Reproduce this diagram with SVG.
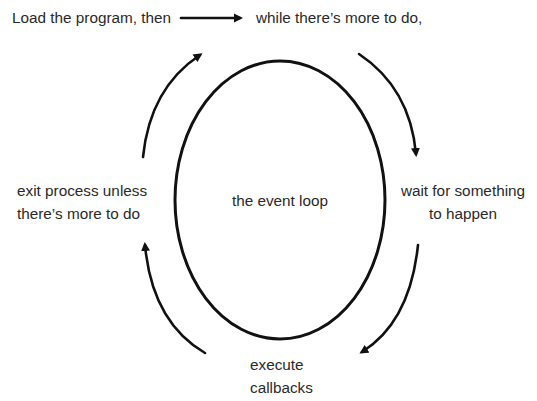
<svg xmlns="http://www.w3.org/2000/svg" width="537" height="401" viewBox="0 0 537 401">
<defs>
<style>
text{font-family:"Liberation Sans","DejaVu Sans",sans-serif;font-size:15.3px;fill:#2a2a2a}
.c{fill:none;stroke:#111;stroke-width:2.6;stroke-linecap:round}
</style>
<marker id="ah" markerWidth="12" markerHeight="12" refX="6" refY="5" orient="auto" markerUnits="userSpaceOnUse">
<path d="M0,0.5 L9,5 L0,9.5 Z" fill="#111"/>
</marker>
</defs>
<rect width="537" height="401" fill="#fff"/>
<g id="loop">
<ellipse cx="280" cy="200" rx="105" ry="139" fill="none" stroke="#111" stroke-width="3"/>
<text x="280" y="206" text-anchor="middle">the event loop</text>
</g>
<g id="load"><text x="12" y="23">Load the program, then</text></g>
<g id="while"><text x="256" y="23">while there’s more to do,</text></g>
<g id="wait"><text x="463" y="196" text-anchor="middle">wait for something</text><text x="463" y="219" text-anchor="middle">to happen</text></g>
<g id="execute"><text x="250" y="370">execute</text><text x="250" y="393">callbacks</text></g>
<g id="exit"><text x="17" y="196">exit process unless</text><text x="17" y="219">there’s more to do</text></g>
<g id="connectors">
<path class="c" d="M181,18 L240,18" stroke-width="3" marker-end="url(#ah)"/>
<path class="c" d="M143,157 Q150,88 200,55" marker-end="url(#ah)"/>
<path class="c" d="M359,54 Q410,88 416,154" marker-end="url(#ah)"/>
<path class="c" d="M418,245 Q410,322 362,352" marker-end="url(#ah)"/>
<path class="c" d="M205,353 Q152,322 145,245" marker-end="url(#ah)"/>
</g>
</svg>
